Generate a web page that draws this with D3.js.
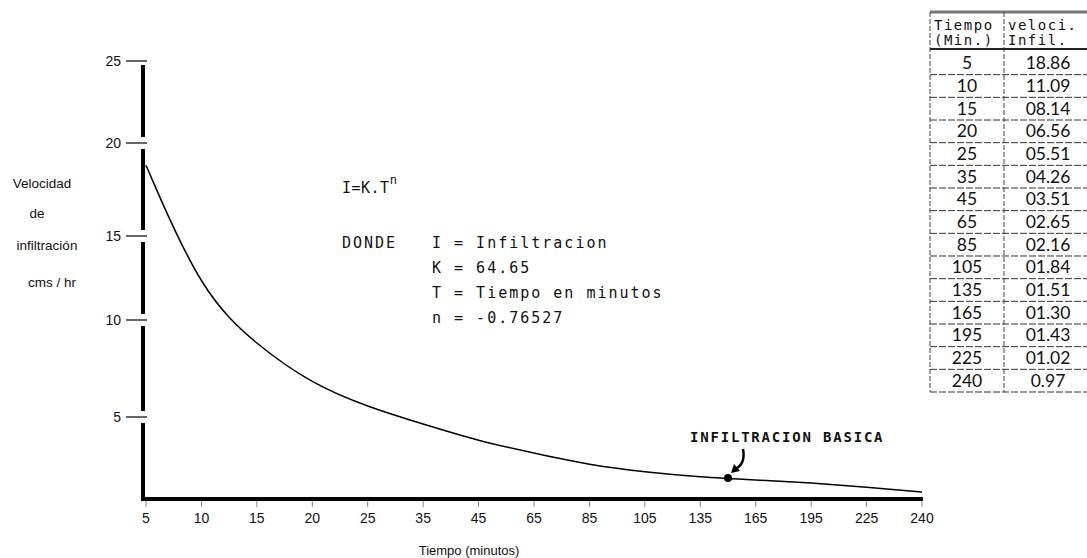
<!DOCTYPE html>
<html>
  <head>
    <meta charset="utf-8" />
    <title>Velocidad de infiltracion</title>
    <style>
      body {
        margin: 0;
        background: #fff;
      }
      .tick-label {
        font-family: "Liberation Sans", Arial, sans-serif;
        font-size: 14px;
        fill: #111;
      }
      .title {
        font-family: "Liberation Sans", Arial, sans-serif;
        font-size: 13.5px;
        fill: #111;
      }
      .mono {
        font-family: "DejaVu Sans Mono", monospace;
        font-size: 15px;
        letter-spacing: 2px;
        fill: #111;
      }
      .cell {
        font-family: Lato, "Open Sans", sans-serif;
        font-size: 17.5px;
        fill: #111;
      }
    </style>
    <script src="https://d3js.org/d3.v7.min.js" charset="utf-8"></script>
  </head>
  <body>
    <script>
      const width = 1087,
        height = 558;

      // minutes, as on the axis and in the table
      const times = [5, 10, 15, 20, 25, 35, 45, 65, 85, 105, 135, 165, 195, 225, 240];
      // curve as drawn in the picture (cm/hr), read at each tick
      const curveRates = [18.8, 11.6, 8.7, 6.7, 5.52, 4.57, 3.54, 2.8, 2.07, 1.65, 1.34, 1.16, 0.98, 0.73, 0.43];
      // table column "veloci. Infil."
      const rateLabels = ["18.86", "11.09", "08.14", "06.56", "05.51", "04.26", "03.51", "02.65", "02.16", "01.84", "01.51", "01.30", "01.43", "01.02", "0.97"];
      const yTicks = [5, 10, 15, 20, 25];
      // infiltracion basica: half way between 135 and 165
      const basic = { after: 135, value: 1.28 };

      const formulaLines = ["I = Infiltracion", "K = 64.65", "T = Tiempo en minutos", "n = -0.76527"];

      const svg = d3
        .select("body")
        .append("svg")
        .attr("width", width)
        .attr("height", height);

      const x = d3.scalePoint().domain(times).range([146, 922]);
      // hand drawn axis, the steps are not even
      const y = d3
        .scaleLinear()
        .domain([0, 5, 10, 15, 20, 25])
        .range([499, 417, 320, 236, 143, 61]);

      // y axis: thick line broken at each tick
      const axisX = 143;
      const stops = [0].concat(yTicks);
      for (let i = 0; i < stops.length - 1; i++) {
        svg
          .append("line")
          .attr("x1", axisX)
          .attr("x2", axisX)
          .attr("y1", y(stops[i]) + (i === 0 ? 0 : -6))
          .attr("y2", y(stops[i + 1]) + (i + 1 === stops.length - 1 ? 4 : 6))
          .attr("stroke", "#000")
          .attr("stroke-width", 4);
      }

      const yt = svg
        .selectAll(".ytick")
        .data(yTicks)
        .join("g")
        .attr("class", "ytick")
        .attr("transform", (d) => "translate(0," + y(d) + ")");

      yt.append("line")
        .attr("x1", 126)
        .attr("x2", 147)
        .attr("stroke", "#000")
        .attr("stroke-width", 1.2);

      yt.append("text")
        .attr("class", "tick-label")
        .attr("x", 121)
        .attr("dy", "0.35em")
        .attr("text-anchor", "end")
        .text((d) => d);

      // x axis
      svg
        .append("line")
        .attr("x1", axisX - 2)
        .attr("x2", x(240) + 1)
        .attr("y1", y(0))
        .attr("y2", y(0))
        .attr("stroke", "#000")
        .attr("stroke-width", 4);

      const xt = svg
        .selectAll(".xtick")
        .data(times)
        .join("g")
        .attr("class", "xtick")
        .attr("transform", (d) => "translate(" + x(d) + "," + y(0) + ")");

      xt.append("line")
        .attr("y1", 2)
        .attr("y2", 8)
        .attr("stroke", "#888")
        .attr("stroke-width", 1);

      xt.append("text")
        .attr("class", "tick-label")
        .attr("y", 19)
        .attr("dy", "0.35em")
        .attr("text-anchor", "middle")
        .text((d) => d);

      // curve
      const line = d3
        .line()
        .x((d, i) => x(times[i]))
        .y((d) => y(d))
        .curve(d3.curveBasis);

      svg
        .append("path")
        .datum(curveRates)
        .attr("d", line)
        .attr("fill", "none")
        .attr("stroke", "#000")
        .attr("stroke-width", 1.5);

      // infiltracion basica
      const bx = x(basic.after) + x.step() / 2,
        by = y(basic.value);
      svg.append("circle").attr("cx", bx).attr("cy", by).attr("r", 4).attr("fill", "#000");
      svg
        .append("path")
        .attr("d", `M${bx + 15},${by - 29} C${bx + 17},${by - 18} ${bx + 14},${by - 12} ${bx + 7},${by - 9}`)
        .attr("fill", "none")
        .attr("stroke", "#000")
        .attr("stroke-width", 2.5);
      svg
        .append("path")
        .attr("d", `M${bx + 3},${by - 5} L${bx + 6},${by - 14} L${bx + 12},${by - 7} Z`)
        .attr("fill", "#000");
      svg
        .append("text")
        .attr("class", "mono")
        .attr("x", 690)
        .attr("y", 442)
        .style("font-size", "14px")
        .style("font-weight", "bold")
        .style("letter-spacing", "1.8px")
        .text("INFILTRACION BASICA");

      // formula
      const f = svg.append("text").attr("class", "mono").attr("x", 342).attr("y", 193);
      f.append("tspan").style("letter-spacing", "0.5px").text("I=K.T");
      f.append("tspan").attr("dy", -9).style("font-size", "12px").text("n");

      svg.append("text").attr("class", "mono").attr("x", 342).attr("y", 248).text("DONDE");
      svg
        .selectAll(".def")
        .data(formulaLines)
        .join("text")
        .attr("class", "mono def")
        .attr("x", 432)
        .attr("y", (d, i) => 248 + i * 25)
        .style("white-space", "pre")
        .text((d) => d);

      // axis titles
      const yTitle = [
        ["Velocidad", 42, 183],
        ["de", 37, 213],
        ["infiltración", 47, 245],
        ["cms / hr", 52, 282],
      ];
      svg
        .selectAll(".ytitle")
        .data(yTitle)
        .join("text")
        .attr("class", "title")
        .attr("x", (d) => d[1])
        .attr("y", (d) => d[2])
        .attr("dy", "0.35em")
        .attr("text-anchor", "middle")
        .text((d) => d[0]);

      svg
        .append("text")
        .attr("class", "title")
        .attr("x", 469)
        .attr("y", 550)
        .attr("dy", "0.35em")
        .attr("text-anchor", "middle")
        .style("font-size", "13px")
        .text("Tiempo (minutos)");

      // table on the right
      const tLeft = 930,
        tDiv = 1004;
      const rows = d3.scaleBand().domain(d3.range(times.length)).range([52, 392]);
      const table = svg.append("g").attr("class", "table");

      table
        .append("line")
        .attr("x1", tLeft)
        .attr("x2", width)
        .attr("y1", 12)
        .attr("y2", 12)
        .attr("stroke", "#777")
        .attr("stroke-width", 3);

      [tLeft, tDiv].forEach((cx) => {
        table
          .append("line")
          .attr("x1", cx)
          .attr("x2", cx)
          .attr("y1", 12)
          .attr("y2", 392)
          .attr("stroke", "#444")
          .attr("stroke-width", 1)
          .attr("stroke-dasharray", "5,2");
      });

      table
        .append("line")
        .attr("x1", tLeft)
        .attr("x2", width)
        .attr("y1", 49)
        .attr("y2", 49)
        .attr("stroke", "#222")
        .attr("stroke-width", 2);

      const head = [
        ["Tiempo", "(Min.)", tLeft + 4],
        ["veloci.", "Infil.", tDiv + 4],
      ];
      head.forEach((h) => {
        table
          .append("text")
          .attr("class", "mono")
          .attr("x", h[2])
          .attr("y", 30)
          .style("font-size", "14px")
          .style("letter-spacing", "1.5px")
          .text(h[0]);
        table
          .append("text")
          .attr("class", "mono")
          .attr("x", h[2])
          .attr("y", 45)
          .style("font-size", "14px")
          .style("letter-spacing", "1.5px")
          .text(h[1]);
      });

      const r = table
        .selectAll(".row")
        .data(times)
        .join("g")
        .attr("class", "row")
        .attr("transform", (d, i) => "translate(0," + rows(i) + ")");

      r.append("line")
        .attr("x1", tLeft)
        .attr("x2", width)
        .attr("y1", rows.bandwidth())
        .attr("y2", rows.bandwidth())
        .attr("stroke", "#333")
        .attr("stroke-width", 1)
        .attr("stroke-dasharray", "7,2");

      r.append("text")
        .attr("class", "cell")
        .attr("x", (tLeft + tDiv) / 2)
        .attr("y", rows.bandwidth() / 2)
        .attr("dy", "0.35em")
        .attr("text-anchor", "middle")
        .text((d) => d);

      r.append("text")
        .attr("class", "cell")
        .attr("x", 1048)
        .attr("y", rows.bandwidth() / 2)
        .attr("dy", "0.35em")
        .attr("text-anchor", "middle")
        .text((d, i) => rateLabels[i]);
    </script>
  </body>
</html>
